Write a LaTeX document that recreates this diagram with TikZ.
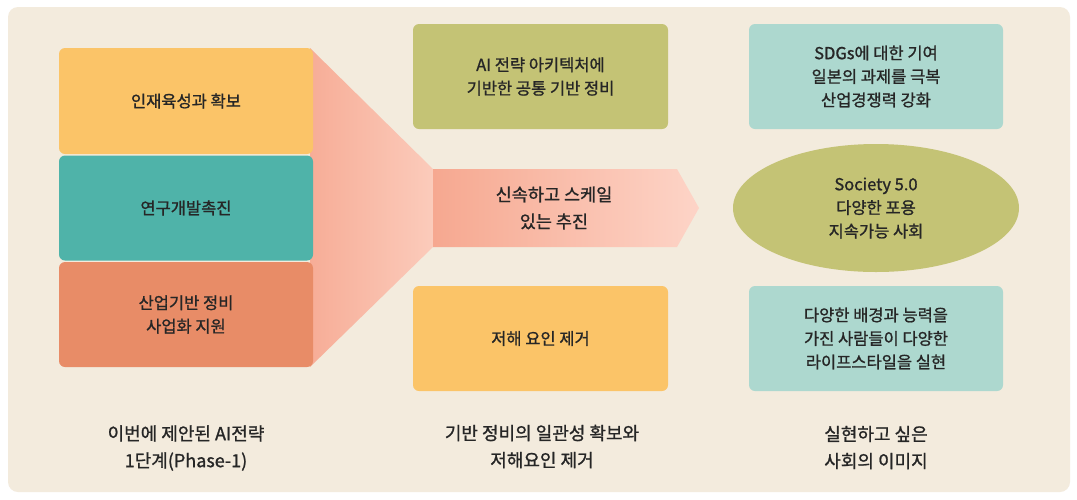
\documentclass[tikz,border=0pt]{standalone}
\usepackage{fontspec}
\setmainfont{Noto Sans CJK KR}[FakeBold=1.1]
\usetikzlibrary{shapes.geometric}
\definecolor{sfondo}{HTML}{F3EBDD}
\definecolor{arancio}{HTML}{FBC468}
\definecolor{verdeacqua}{HTML}{4FB3A9}
\definecolor{salmone}{HTML}{E88C67}
\definecolor{oliva}{HTML}{C4C375}
\definecolor{menta}{HTML}{ADD8CF}
\definecolor{testo}{HTML}{262626}
\definecolor{imbutoA}{HTML}{F7AD97}
\definecolor{imbutoB}{HTML}{FBCBBB}
\definecolor{frecciaA}{HTML}{F6A890}
\definecolor{frecciaB}{HTML}{FDD4C7}
\tikzset{
  box/.style={rounded corners=6pt, minimum width=254pt, minimum height=105pt,
    inner sep=0pt, align=center, text=testo,
    font=\fontsize{16.5}{23.5}\selectfont},
  etichetta/.style={align=center, text=testo, font=\fontsize{18}{27}\selectfont}
}
\begin{document}
\begin{tikzpicture}[x=1pt, y=-1pt]
\useasboundingbox (0,0) rectangle (1077,499);
% sfondo
\fill[white] (0,0) rectangle (1077,499);
\fill[sfondo, rounded corners=10pt] (8,7) rectangle (1070,492);
% imbuto e freccia
\shade[left color=imbutoA, right color=imbutoB] (310,48) -- (433,169) -- (433,247) -- (310,367) -- cycle;
\shade[left color=frecciaA, right color=frecciaB] (433,169) -- (677,169) -- (699,208) -- (677,247) -- (433,247) -- cycle;
\node[align=center, text=testo, font=\fontsize{17.5}{27}\selectfont] (spinta) at (554,208) {신속하고 스케일\\있는 추진};
% colonna sinistra
\node[box, fill=arancio, minimum height=106pt] (persone) at (186,101) {인재육성과 확보};
\node[box, fill=verdeacqua] (ricerca) at (186,208) {연구개발촉진};
\node[box, fill=salmone] (industria) at (186,314.5) {산업기반 정비\\사업화 지원};
\node[etichetta] (fase) at (186,448) {이번에 제안된 AI전략\\1단계(Phase-1)};
% colonna centrale
\node[box, fill=oliva, minimum width=255pt] (base) at (540.5,76.5) {AI 전략 아키텍처에\\기반한 공통 기반 정비};
\node[box, fill=arancio, minimum width=255pt] (ostacoli) at (540.5,338.5) {저해 요인 제거};
\node[etichetta] (coerenza) at (542,446.5) {기반 정비의 일관성 확보와\\저해요인 제거};
% colonna destra
\node[box, fill=menta] (sdgs) at (876,76.5) {SDGs에 대한 기여\\일본의 과제를 극복\\산업경쟁력 강화};
\node[ellipse, fill=oliva, minimum width=286pt, minimum height=128pt, inner sep=0pt,
  align=center, text=testo, font=\fontsize{16.5}{23.5}\selectfont] (societa) at (876,208) {Society 5.0\\다양한 포용\\지속가능 사회};
\node[box, fill=menta] (stili) at (876,338.5) {다양한 배경과 능력을\\가진 사람들이 다양한\\라이프스타일을 실현};
\node[etichetta] (immagine) at (876,447.5) {실현하고 싶은\\사회의 이미지};
\end{tikzpicture}
\end{document}
